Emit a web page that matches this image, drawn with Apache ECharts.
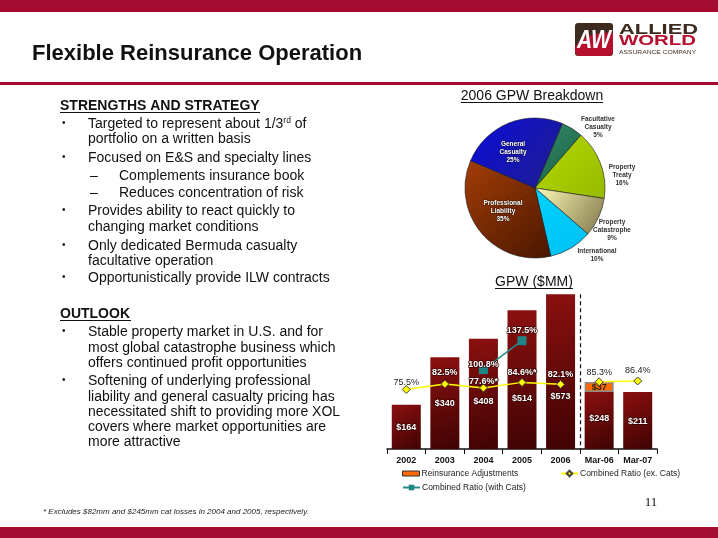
<!DOCTYPE html>
<html><head><meta charset="utf-8">
<script src="https://cdn.jsdelivr.net/npm/echarts@6/dist/echarts.min.js"></script>
<style>html,body{margin:0;padding:0;background:#fff}#c{width:718px;height:538px}</style>
</head><body><div id="c"></div>
<script>
// ---------- data ----------
const pieCategories = ['Facultative Casualty','Property Treaty','Property Catastrophe','International','Professional Liability','General Casualty'];
const pieLabelNames = ['Facultative\nCasualty','Property\nTreaty','Property\nCatastrophe','International','Professional\nLiability','General\nCasualty'];
const pieShares = [5,16,9,10,35,25];

const gpwCategories = ['2002','2003','2004','2005','2006','Mar-06','Mar-07'];
const gpwTotal = [164,340,408,514,573,248,211];
const reinsuranceAdj = [0,0,0,0,0,37,0];
const ratioExCats = [75.5,82.5,77.6,84.6,82.1,85.3,86.4];
const ratioExCatsNote = ['','','*','*','','',''];
const ratioWithCats = [null,null,100.8,137.5,null,null,null];
const annualCount = 5;

// ---------- layout / style ----------
const FONT = '"Liberation Sans", Arial, Helvetica, sans-serif';
const RED = '#A50B2E';
const pieLabelPos = [[598,127],[622,175],[612,230],[597,255.5],[503,211],[513,152]];
const pieLabelInside = [false,false,false,false,true,true];
const pieColors = [
  {type:'linear',x:0,y:0,x2:1,y2:1,colorStops:[{offset:0,color:'#2f8a66'},{offset:1,color:'#1c5f45'}]},
  {type:'linear',x:0,y:0,x2:1,y2:1,colorStops:[{offset:0,color:'#b6d800'},{offset:1,color:'#96bb00'}]},
  {type:'linear',x:0,y:0,x2:1,y2:1,colorStops:[{offset:0,color:'#fffcb8'},{offset:1,color:'#7f7548'}]},
  {type:'linear',x:0,y:0,x2:1,y2:1,colorStops:[{offset:0,color:'#00d2ff'},{offset:1,color:'#00c0f2'}]},
  {type:'linear',x:0,y:0,x2:1,y2:1,colorStops:[{offset:0,color:'#a33d06'},{offset:1,color:'#4a1700'}]},
  {type:'linear',x:0,y:0,x2:1,y2:1,colorStops:[{offset:0,color:'#0b0bdc'},{offset:1,color:'#1f1f8c'}]}
];
const barLabelLift = [16.5,40.5,42.5,45.5,47.5,25.5,22.5];
const ratioLabelOnBar = [false,true,true,true,true,false,false];
const ratioLabelDist = [-2,2.5,-3,1,1,0,1.5];
const withCatsLabelDist = [0,0,-3.5,1,0,0,0];

const barGrad = {type:'linear',x:0,y:0,x2:1,y2:1,colorStops:[{offset:0,color:'#8c1010'},{offset:1,color:'#400303'}]};

// ---------- slide text ----------
const strengths = [
  ['b','Targeted to represent about 1/3{sup|rd} of',124],
  ['c','portfolio on a written basis',139],
  ['b','Focused on E&S and specialty lines',158],
  ['d','Complements insurance book',176],
  ['d','Reduces concentration of risk',193],
  ['b','Provides ability to react quickly to',211],
  ['c','changing market conditions',227],
  ['b','Only dedicated Bermuda casualty',246],
  ['c','facultative operation',261],
  ['b','Opportunistically provide ILW contracts',278]
];
const outlook = [
  ['b','Stable property market in U.S. and for',332],
  ['c','most global catastrophe business which',348],
  ['c','offers continued profit opportunities',363],
  ['b','Softening of underlying professional',381],
  ['c','liability and general casualty pricing has',397],
  ['c','necessitated shift to providing more XOL',412],
  ['c','covers where market opportunities are',427],
  ['c','more attractive',442]
];

function bodyText(lines){
  const els = [];
  lines.forEach(([k,t,y])=>{
    if(k==='b') els.push({type:'text',style:{text:'•',x:62,y:y-0.5,fontSize:10,fontFamily:FONT,fill:'#111',verticalAlign:'middle'}});
    if(k==='d') els.push({type:'text',style:{text:'–',x:90,y:y,fontSize:14,fontFamily:FONT,fill:'#111',verticalAlign:'middle'}});
    const x = k==='d' ? 119 : 88;
    els.push({type:'text',style:{text:t,x:x,y:y,fontSize:14,fontFamily:FONT,fill:'#111',verticalAlign:'middle',
      rich:{sup:{fontSize:8.5,fontFamily:FONT,fill:'#111',padding:[0,0,6,0]}}}});
  });
  return els;
}

function buildGraphic(extra){
  const g = [
    {type:'rect',shape:{x:0,y:0,width:718,height:12},style:{fill:RED}},
    {type:'rect',shape:{x:0,y:82,width:718,height:3},style:{fill:RED}},
    {type:'rect',shape:{x:0,y:527,width:718,height:11},style:{fill:RED}},
    {type:'text',style:{text:'Flexible Reinsurance Operation',x:32,y:54,fontSize:22,fontWeight:'bold',fontFamily:FONT,fill:'#111',verticalAlign:'middle'}},
    // logo
    {type:'rect',shape:{x:575,y:23,width:38,height:33,r:3},style:{fill:'#3d2b20'}},
    {type:'polygon',shape:{points:[[575,47],[580,41],[586,37],[593,34.5],[600,33],[607,32.6],[613,33],[613,53],[610,56],[578,56],[575,53]]},style:{fill:'#b5112f'}},
    {type:'text',x:594,y:40.5,scaleY:1.25,style:{text:'AW',x:0,y:0,fontSize:21,fontWeight:'bold',fontStyle:'italic',fontFamily:FONT,fill:'#fff',align:'center',verticalAlign:'middle'}},
    {type:'text',x:619,y:29.5,scaleX:1.46,style:{text:'ALLIED',x:0,y:0,fontSize:15,fontWeight:'bold',fontFamily:FONT,fill:'#3d2b20',verticalAlign:'middle'}},
    {type:'text',x:619,y:41,scaleX:1.36,style:{text:'WORLD',x:0,y:0,fontSize:15,fontWeight:'bold',fontFamily:FONT,fill:'#b5112f',verticalAlign:'middle'}},
    {type:'text',x:619,y:52,scaleX:1.12,style:{text:'ASSURANCE COMPANY',x:0,y:0,fontSize:6,fontFamily:FONT,fill:'#3d2b20',verticalAlign:'middle'}},
    // left text
    {type:'text',style:{text:'STRENGTHS AND STRATEGY',x:60,y:106,fontSize:14,fontWeight:'bold',fontFamily:FONT,fill:'#111',verticalAlign:'middle'}},
    {type:'line',shape:{x1:60,y1:112.5,x2:260,y2:112.5},style:{stroke:'#111',lineWidth:1}},
    {type:'text',style:{text:'OUTLOOK',x:60,y:314,fontSize:14,fontWeight:'bold',fontFamily:FONT,fill:'#111',verticalAlign:'middle'}},
    {type:'line',shape:{x1:60,y1:320.5,x2:131,y2:320.5},style:{stroke:'#111',lineWidth:1}},
    ...bodyText(strengths),
    ...bodyText(outlook),
    {type:'text',style:{text:'* Excludes $82mm and $245mm cat losses in 2004 and 2005, respectively.',x:43,y:512,fontSize:8,fontStyle:'italic',fontFamily:FONT,fill:'#222',verticalAlign:'middle'}},
    {type:'text',style:{text:'11',x:651,y:503,fontSize:13,fontFamily:'"Liberation Serif", "Times New Roman", serif',fill:'#111',align:'center',verticalAlign:'middle'}},
    // chart titles
    {type:'text',style:{text:'2006 GPW Breakdown',x:532,y:96,fontSize:14,fontFamily:FONT,fill:'#111',align:'center',verticalAlign:'middle'}},
    {type:'line',shape:{x1:461,y1:102.5,x2:603,y2:102.5},style:{stroke:'#111',lineWidth:1}},
    {type:'text',style:{text:'GPW ($MM)',x:534,y:282,fontSize:14,fontFamily:FONT,fill:'#111',align:'center',verticalAlign:'middle'}},
    {type:'line',shape:{x1:495,y1:288.5,x2:573,y2:288.5},style:{stroke:'#111',lineWidth:1}}
  ];
  return g.concat(extra||[]);
}

const whiteLbl = {color:'#fff',fontWeight:'bold',fontSize:9,fontFamily:FONT,textBorderColor:'rgba(50,0,0,0.85)',textBorderWidth:1.5};
const darkLbl = {color:'#222',fontWeight:'normal',fontSize:9,fontFamily:FONT};

const option = {
  animation:false,
  backgroundColor:'#fff',
  textStyle:{fontFamily:FONT},
  grid:{left:387,width:270,top:260,height:189},
  xAxis:{type:'category',data:gpwCategories,
    axisLine:{lineStyle:{color:'#111',width:1.5}},
    axisTick:{show:true,length:5,lineStyle:{color:'#111',width:1}},
    axisLabel:{color:'#111',fontWeight:'bold',fontSize:9,fontFamily:FONT,margin:7,interval:0}},
  yAxis:[
    {type:'value',min:0,max:700,show:false,splitLine:{show:false}},
    {type:'value',min:0,max:240,show:false,splitLine:{show:false}}
  ],
  legend:[
    {data:['Reinsurance Adjustments'],left:402,top:469,padding:0,itemWidth:17,itemHeight:5,selectedMode:false,icon:'rect',
      itemStyle:{borderColor:'#333',borderWidth:1},textStyle:{fontSize:8.5,color:'#222',fontFamily:FONT,padding:[0,0,0,-3]}},
    {data:['Combined Ratio (ex. Cats)'],left:560,top:469,padding:0,itemWidth:17,itemHeight:7,selectedMode:false,
      textStyle:{fontSize:8.5,color:'#222',fontFamily:FONT,padding:[0,0,0,-3]}},
    {data:['Combined Ratio (with Cats)'],left:402,top:483,padding:0,itemWidth:17,itemHeight:7,selectedMode:false,
      textStyle:{fontSize:8.5,color:'#222',fontFamily:FONT,padding:[0,0,0,-3]}}
  ],
  series:[
    {type:'pie',center:[535,188],radius:70,startAngle:67,clockwise:true,avoidLabelOverlap:false,silent:true,
      itemStyle:{borderColor:'#1a1a1a',borderWidth:0.6},
      labelLine:{show:false},
      label:{show:true,position:'outside',fontSize:6.5,fontWeight:'bold',lineHeight:8,fontFamily:FONT,align:'center',
        formatter:p=>pieLabelNames[p.dataIndex]+'\n'+p.value+'%'},
      labelLayout:p=>({x:pieLabelPos[p.dataIndex][0],y:pieLabelPos[p.dataIndex][1],align:'center',verticalAlign:'middle'}),
      data:pieCategories.map((n,i)=>({name:n,value:pieShares[i],itemStyle:{color:pieColors[i]},
        label:pieLabelInside[i]?{color:'#fff',textBorderColor:'rgba(0,0,0,0.5)',textBorderWidth:1}:{color:'#333'}}))
    },
    {name:'GPW',type:'bar',stack:'gpw',barWidth:29,silent:true,
      itemStyle:{color:barGrad},
      label:Object.assign({show:true,position:'insideBottom',formatter:p=>'$'+gpwTotal[p.dataIndex]},whiteLbl),
      data:gpwTotal.map((t,i)=>({value:t-reinsuranceAdj[i],label:{distance:barLabelLift[i]}}))
    },
    {name:'Reinsurance Adjustments',type:'bar',stack:'gpw',barWidth:29,silent:true,
      itemStyle:{color:'#ff6a00',borderColor:'#8a8a8a',borderWidth:1.5},
      label:{show:true,position:'inside',formatter:p=>'$'+p.value,color:'#222',fontWeight:'bold',fontSize:9,fontFamily:FONT},
      data:reinsuranceAdj.map(v=>v>0?v:null)
    },
    {name:'Combined Ratio (ex. Cats)',type:'line',yAxisIndex:1,silent:true,symbol:'diamond',symbolSize:8,
      lineStyle:{color:'#ffff00',width:1.5},itemStyle:{color:'#ffff00',borderColor:'#444',borderWidth:1},
      label:{show:true,position:'top',formatter:p=>p.value.toFixed(1)+'%'+ratioExCatsNote[p.dataIndex]},
      data:ratioExCats.map((v,i)=>i<annualCount?{value:v,label:Object.assign({distance:ratioLabelDist[i]},ratioLabelOnBar[i]?whiteLbl:darkLbl)}:null)
    },
    {name:'Combined Ratio (ex. Cats)',type:'line',yAxisIndex:1,silent:true,symbol:'diamond',symbolSize:8,
      lineStyle:{color:'#ffff00',width:1.5},itemStyle:{color:'#ffff00',borderColor:'#444',borderWidth:1},
      label:{show:true,position:'top',formatter:p=>p.value.toFixed(1)+'%'+ratioExCatsNote[p.dataIndex]},
      data:ratioExCats.map((v,i)=>i>=annualCount?{value:v,label:Object.assign({distance:ratioLabelDist[i]},ratioLabelOnBar[i]?whiteLbl:darkLbl)}:null)
    },
    {name:'Combined Ratio (with Cats)',type:'line',yAxisIndex:1,silent:true,symbol:'rect',symbolSize:9,
      lineStyle:{color:'#2a8c8c',width:1.5},itemStyle:{color:'#1f8585'},
      label:Object.assign({show:true,position:'top',formatter:p=>p.value.toFixed(1)+'%'},whiteLbl),
      data:ratioWithCats.map((v,i)=>v==null?null:{value:v,label:{distance:withCatsLabelDist[i]}})
    }
  ],
  graphic:{elements:buildGraphic()}
};

const chart = echarts.init(document.getElementById('c'),null,{renderer:'canvas'});
chart.setOption(option);
const xa = chart.convertToPixel({xAxisIndex:0},gpwCategories[annualCount-1]);
const xb = chart.convertToPixel({xAxisIndex:0},gpwCategories[annualCount]);
const yTop = chart.convertToPixel({yAxisIndex:0},gpwTotal[annualCount-1]);
const yBot = chart.convertToPixel({yAxisIndex:0},0);
const sx = Math.round((xa+xb)/2)+0.5;
option.graphic = {elements:buildGraphic([
  {type:'line',shape:{x1:sx,y1:yTop,x2:sx,y2:yBot},style:{stroke:'#111',lineWidth:1.2,lineDash:[4,3]}}
])};
chart.setOption(option,true);
</script>
</body></html>
